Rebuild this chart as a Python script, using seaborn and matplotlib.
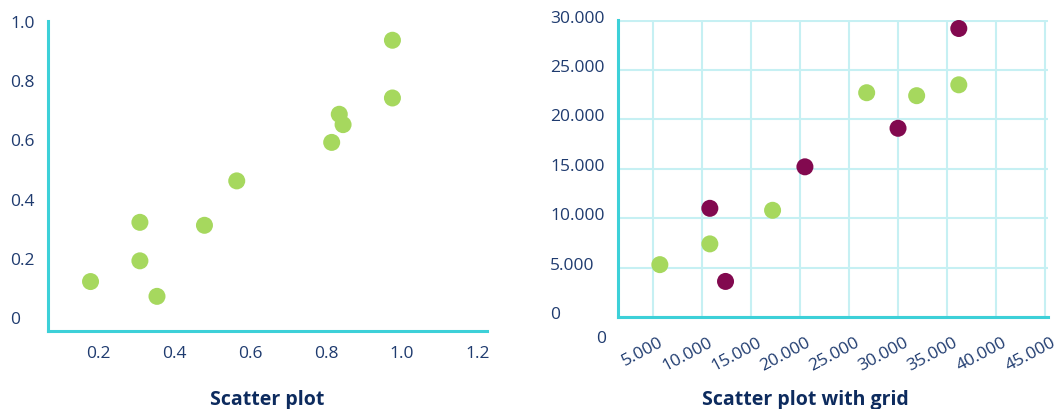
import matplotlib
matplotlib.use("Agg")
import matplotlib.pyplot as plt
import matplotlib.transforms as mtransforms
import seaborn as sns
import pandas as pd

# left chart values
left_x = [0.18, 0.31, 0.31, 0.355, 0.48, 0.565, 0.815, 0.835, 0.845, 0.975, 0.975]
left_y = [0.12, 0.32, 0.19, 0.07, 0.31, 0.46, 0.59, 0.685, 0.65, 0.935, 0.74]
left_xticks = [0.2, 0.4, 0.6, 0.8, 1.0, 1.2]
left_yticks = [0, 0.2, 0.4, 0.6, 0.8, 1.0]
left_ylabels = ["0", "0.2", "0.4", "0.6", "0.8", "1.0"]

# right chart values (two groups)
green_x = [5700, 10800, 17200, 26800, 31900, 36200]
green_y = [5300, 7400, 10800, 22700, 22400, 23500]
purple_x = [10800, 12400, 20500, 30000, 36200]
purple_y = [11000, 3600, 15200, 19100, 29200]
right_xticks = [5000, 10000, 15000, 20000, 25000, 30000, 35000, 40000, 45000]
right_yticks = [0, 5000, 10000, 15000, 20000, 25000, 30000]

GREEN = "#a6d85e"
PURPLE = "#82094f"
CYAN = "#3dd0d8"
GRID = "#c6f0f3"
TEXT = "#1f3b6f"
TITLE = "#0d2b5e"
FS = 12.5


def dotted(v):
    return f"{v:,}".replace(",", ".")


sns.set_style("white")
plt.rcParams["font.family"] = ["Open Sans", "DejaVu Sans"]

fig = plt.figure(figsize=(10.59, 4.10), dpi=100)
ax1 = fig.add_axes([48 / 1059, 1 - 332 / 410, (487 - 48) / 1059, (332 - 22) / 410])
ax2 = fig.add_axes([618 / 1059, 1 - 318 / 410, (1048 - 618) / 1059, (318 - 21) / 410])

# ---- left: plain scatter ----
df1 = pd.DataFrame({"x": left_x, "y": left_y})
sns.scatterplot(data=df1, x="x", y="y", ax=ax1, color=GREEN, s=150,
                edgecolor="none", legend=False)
ax1.set_xlim(0.068, 1.224)
ax1.set_ylim(-0.047, 1.0)
ax1.set_xticks(left_xticks)
ax1.set_xticklabels([f"{v:.1f}" for v in left_xticks])
ax1.set_yticks(left_yticks)
ax1.set_yticklabels(left_ylabels)
ax1.tick_params(axis="x", length=0, pad=10, labelsize=FS, labelcolor=TEXT)
ax1.tick_params(axis="y", length=0, pad=27, labelsize=FS, labelcolor=TEXT)
for lab in ax1.get_yticklabels():
    lab.set_horizontalalignment("left")

# ---- right: scatter with grid ----
df2 = pd.DataFrame({
    "x": green_x + purple_x,
    "y": green_y + purple_y,
    "group": ["a"] * len(green_x) + ["b"] * len(purple_x),
})
sns.scatterplot(data=df2, x="x", y="y", hue="group", ax=ax2,
                palette={"a": GREEN, "b": PURPLE}, s=150,
                edgecolor="none", legend=False, zorder=3)
ax2.set_xlim(1430, 45300)
ax2.set_ylim(300, 30060)
ax2.set_xticks(right_xticks)
ax2.set_xticklabels([dotted(v) for v in right_xticks], rotation=28,
                    ha="right", va="top", rotation_mode="anchor")
ax2.set_yticks(right_yticks)
ax2.set_yticklabels([dotted(v) for v in right_yticks])
ax2.tick_params(axis="x", length=0, pad=12, labelsize=FS, labelcolor=TEXT)
ax2.tick_params(axis="y", length=0, pad=49, labelsize=FS, labelcolor=TEXT)
ax2.grid(True, color=GRID, linewidth=1.5)
ax2.set_axisbelow(True)
shift_x = mtransforms.ScaledTranslation(6 / 100, 0, fig.dpi_scale_trans)
for lab in ax2.get_xticklabels():
    lab.set_transform(lab.get_transform() + shift_x)
shift_y = mtransforms.ScaledTranslation(0, 5 / 100, fig.dpi_scale_trans)
for lab in ax2.get_yticklabels():
    lab.set_horizontalalignment("left")
    lab.set_transform(lab.get_transform() + shift_y)
ax2.annotate("0", xy=(0, 0), xycoords=("data", "axes fraction"),
             xytext=(-2, -15), textcoords="offset points",
             ha="center", va="center", fontsize=FS, color=TEXT,
             annotation_clip=False)

for ax in (ax1, ax2):
    ax.set_xlabel("")
    ax.set_ylabel("")
    for side in ("top", "right"):
        ax.spines[side].set_visible(False)
    for side in ("left", "bottom"):
        ax.spines[side].set_color(CYAN)
        ax.spines[side].set_linewidth(2.2)
        ax.spines[side].set_zorder(4)

fig.text(267 / 1059, 1 - 400 / 410, "Scatter plot", ha="center", va="center",
         fontsize=14, fontweight="bold", color=TITLE)
fig.text(805 / 1059, 1 - 400 / 410, "Scatter plot with grid", ha="center",
         va="center", fontsize=14, fontweight="bold", color=TITLE)

fig.savefig("out.png", dpi=100)
